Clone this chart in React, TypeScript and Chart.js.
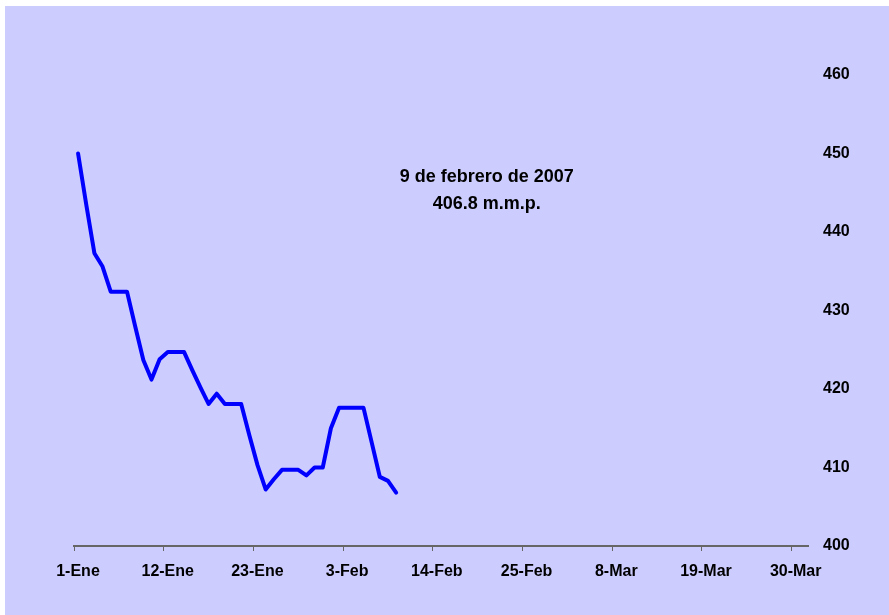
import React, { useEffect, useRef } from "react";
import { Chart, registerables } from "chart.js";

Chart.register(...registerables);

// Daily values, 1-Ene (index 0) to 9-Feb 2007 (index 39), m.m.p.
const DAILY_VALUES: number[] = [
  450.0, 443.5, 437.3, 435.6, 432.4, 432.4, 432.4, 428.0, 423.7, 421.2,
  423.8, 424.7, 424.7, 424.7, 422.4, 420.2, 418.1, 419.4, 418.1, 418.1,
  418.1, 414.1, 410.3, 407.2, 408.5, 409.7, 409.7, 409.7, 409.0, 410.0,
  410.0, 415.0, 417.6, 417.6, 417.6, 417.6, 413.2, 408.8, 408.3, 406.8,
];

const X_TICK_LABELS: string[] = [
  "1-Ene", "12-Ene", "23-Ene", "3-Feb", "14-Feb", "25-Feb", "8-Mar", "19-Mar", "30-Mar",
];
const X_TICK_STEP_DAYS = 11;
const X_AXIS_DAYS = 90;

const Y_MIN = 400;
const Y_MAX = 460;
const Y_STEP = 10;

const ANNOTATION_LINES: string[] = ["9 de febrero de 2007", "406.8 m.m.p."];
const ANNOTATION_AT = { x: 50.6, y: 447 };

const FONT_FAMILY = "'Liberation Sans', Arial, Helvetica, sans-serif";

export default function App() {
  const canvasRef = useRef<HTMLCanvasElement | null>(null);

  useEffect(() => {
    const canvas = canvasRef.current;
    if (!canvas) return;

    const points = DAILY_VALUES.map((v, i) => ({ x: i + 0.5, y: v }));

    const annotationPlugin = {
      id: "annotationText",
      afterDatasetsDraw(chart: any) {
        const { ctx, scales } = chart;
        const px = scales.x.getPixelForValue(ANNOTATION_AT.x);
        const py = scales.y.getPixelForValue(ANNOTATION_AT.y);
        ctx.save();
        ctx.font = `bold 18px ${FONT_FAMILY}`;
        ctx.fillStyle = "#000000";
        ctx.textAlign = "center";
        ctx.textBaseline = "middle";
        ANNOTATION_LINES.forEach((line, i) => {
          ctx.fillText(line, px, py + i * 26.5);
        });
        ctx.restore();
      },
    };

    const chart = new Chart(canvas, {
      type: "line",
      data: {
        datasets: [
          {
            data: points,
            borderColor: "#0000FF",
            borderWidth: 4,
            borderJoinStyle: "round",
            borderCapStyle: "round",
            pointRadius: 0,
            pointHoverRadius: 0,
            tension: 0,
            fill: false,
          },
        ],
      },
      options: {
        animation: false,
        responsive: false,
        devicePixelRatio: 1,
        layout: { padding: { left: 69, top: 69, right: 0, bottom: 0 } },
        plugins: {
          legend: { display: false },
          tooltip: { enabled: false },
          title: { display: false },
        },
        scales: {
          x: {
            type: "linear",
            min: 0,
            max: X_AXIS_DAYS,
            afterFit: (scale: any) => {
              scale.height = 69;
            },
            grid: {
              display: true,
              drawOnChartArea: false,
              drawTicks: true,
              tickLength: 5,
              tickColor: "#666666",
              tickWidth: 1,
            },
            border: { display: true, color: "#666666", width: 2 },
            ticks: {
              stepSize: X_TICK_STEP_DAYS,
              includeBounds: false,
              autoSkip: false,
              maxRotation: 0,
              minRotation: 0,
              padding: 11,
              labelOffset: 4,
              color: "#000000",
              font: { family: FONT_FAMILY, size: 16, weight: "bold" },
              callback: (v: any) => {
                const idx = Math.round(Number(v) / X_TICK_STEP_DAYS);
                return X_TICK_LABELS[idx] ?? "";
              },
            },
          },
          y: {
            type: "linear",
            position: "right",
            min: Y_MIN,
            max: Y_MAX,
            afterFit: (scale: any) => {
              scale.width = 81;
            },
            grid: { display: false, drawTicks: false },
            border: { display: false },
            ticks: {
              stepSize: Y_STEP,
              padding: 15,
              color: "#000000",
              font: { family: FONT_FAMILY, size: 16, weight: "bold" },
            },
          },
        },
      },
      plugins: [annotationPlugin],
    } as any);

    return () => {
      chart.destroy();
    };
  }, []);

  return (
    <div
      style={{
        position: "fixed",
        left: 5,
        top: 6,
        width: 884,
        height: 609,
        background: "#CCCCFF",
      }}
    >
      <canvas ref={canvasRef} width={884} height={609} style={{ display: "block", width: 884, height: 609 }} />
    </div>
  );
}
